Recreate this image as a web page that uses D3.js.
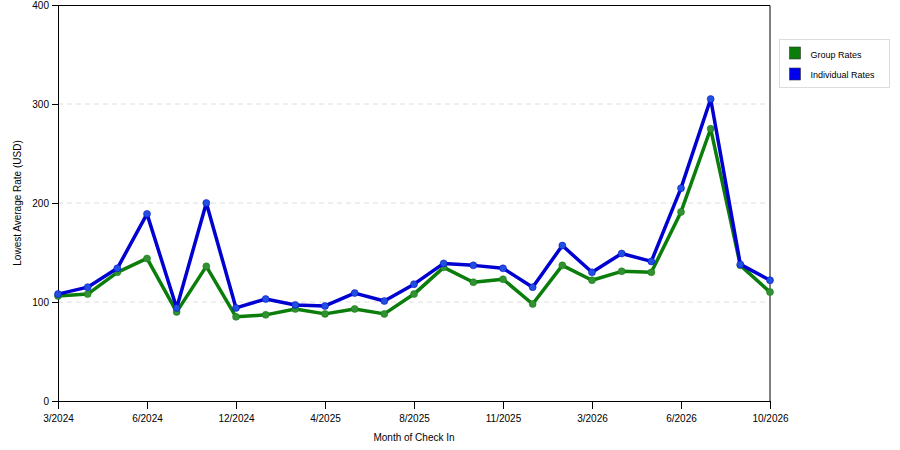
<!DOCTYPE html>
<html>
<head>
<meta charset="utf-8">
<script src="https://cdn.jsdelivr.net/npm/d3@7"></script>
<style>
  body { margin: 0; background: #fff; }
  text { font-family: "Liberation Sans", Arial, sans-serif; font-size: 10px; fill: #000; }
</style>
</head>
<body>
<div id="chart"></div>
<script>
// Months with data (only every third one is labelled on the axis)
var months = ["3/2024", "4/2024", "5/2024", "6/2024", "8/2024", "10/2024", "12/2024",
  "1/2025", "2/2025", "4/2025", "5/2025", "6/2025", "8/2025", "9/2025", "10/2025",
  "11/2025", "12/2025", "1/2026", "3/2026", "4/2026", "5/2026", "6/2026", "7/2026",
  "8/2026", "10/2026"];

var groupRates = [106, 108, 130, 144, 90, 136, 85, 87, 93, 88, 93, 88, 108, 135, 120,
  123, 98, 137, 122, 131, 130, 191, 275, 137, 110];

var individualRates = [108, 115, 134, 189, 94, 200, 94, 103, 97, 96, 109, 101, 118, 139, 137,
  134, 115, 157, 130, 149, 141, 215, 305, 138, 122];

var tickLabels = ["3/2024", "6/2024", "12/2024", "4/2025", "8/2025", "11/2025",
  "3/2026", "6/2026", "10/2026"];

var yTicks = [0, 100, 200, 300, 400];

var seriesNames = ["Group Rates", "Individual Rates"];
var seriesColors = ["#0a7d0a", "#0000d0"];
var markerColors = ["#339033", "#1f50e0"];
var legendColors = ["#0a7d0a", "#0000ee"];

//SVG size and margins
var svgWidth = 900;
var svgHeight = 450;
var margin = { top: 5, right: 130, bottom: 49, left: 58 };
var width = svgWidth - margin.left - margin.right;
var height = svgHeight - margin.top - margin.bottom;

var svg = d3.select("#chart")
  .append("svg")
  .attr("width", svgWidth)
  .attr("height", svgHeight);

var chartGroup = svg.append("g")
  .attr("transform", `translate(${margin.left}, ${margin.top})`);

// scales
var xScale = d3.scalePoint()
  .domain(months)
  .range([0, width]);

var yScale = d3.scaleLinear()
  .domain([0, 400])
  .range([height, 0]);

// dashed gridlines
chartGroup.append("g")
  .selectAll("line")
  .data(yTicks.filter(d => d > 0 && d < 400))
  .enter()
  .append("line")
  .attr("x1", 0)
  .attr("x2", width)
  .attr("y1", d => yScale(d))
  .attr("y2", d => yScale(d))
  .attr("stroke", "#dedede")
  .attr("stroke-dasharray", "5,4");

// frame (top and right)
chartGroup.append("path")
  .attr("d", `M0,0.5H${width}V${height}`)
  .attr("fill", "none")
  .attr("stroke", "#000");

// axes
var bottomAxis = d3.axisBottom(xScale)
  .tickValues(tickLabels)
  .tickSize(8)
  .tickSizeOuter(0)
  .tickPadding(6);

var leftAxis = d3.axisLeft(yScale)
  .tickValues(yTicks)
  .tickSize(6)
  .tickSizeOuter(0)
  .tickPadding(3);

var xAxis = chartGroup.append("g")
  .attr("transform", `translate(0, ${height})`)
  .call(bottomAxis);

var yAxis = chartGroup.append("g")
  .call(leftAxis);

[xAxis, yAxis].forEach(function(ax) {
  ax.selectAll("path, line").attr("stroke", "#000");
  ax.selectAll("text").style("font-family", "'Liberation Sans', Arial, sans-serif")
    .style("font-size", "10px").attr("fill", "#000");
});

// lines and markers
var lineGen = d3.line()
  .x((d, i) => xScale(months[i]))
  .y(d => yScale(d));

[groupRates, individualRates].forEach(function(values, s) {
  chartGroup.append("path")
    .datum(values)
    .attr("d", lineGen)
    .attr("fill", "none")
    .attr("stroke", seriesColors[s])
    .attr("stroke-width", 3.5)
    .attr("stroke-linejoin", "round");

  chartGroup.append("g")
    .selectAll("circle")
    .data(values)
    .enter()
    .append("circle")
    .attr("cx", (d, i) => xScale(months[i]))
    .attr("cy", d => yScale(d))
    .attr("r", 3.5)
    .attr("fill", markerColors[s])
    .attr("stroke", seriesColors[s])
    .attr("stroke-opacity", 0.5)
    .attr("stroke-width", 1);
});

// axis titles
svg.append("text")
  .attr("x", margin.left + width / 2)
  .attr("y", 441)
  .attr("text-anchor", "middle")
  .text("Month of Check In");

svg.append("text")
  .attr("transform", "rotate(-90)")
  .attr("x", -(margin.top + height / 2))
  .attr("y", 21)
  .attr("text-anchor", "middle")
  .text("Lowest Average Rate (USD)");

// legend
var legend = svg.append("g")
  .attr("transform", "translate(779.5, 39.5)");

legend.append("rect")
  .attr("width", 110)
  .attr("height", 48)
  .attr("fill", "#fff")
  .attr("stroke", "#dcdcdc");

seriesNames.forEach(function(name, i) {
  legend.append("rect")
    .attr("x", 10)
    .attr("y", 7.5 + i * 21)
    .attr("width", 11)
    .attr("height", 12)
    .attr("fill", legendColors[i])
    .attr("stroke", "#333")
    .attr("stroke-width", 0.6);

  legend.append("text")
    .attr("x", 31)
    .attr("y", 18 + i * 20)
    .style("font-size", "9px")
    .text(name);
});
</script>
</body>
</html>
